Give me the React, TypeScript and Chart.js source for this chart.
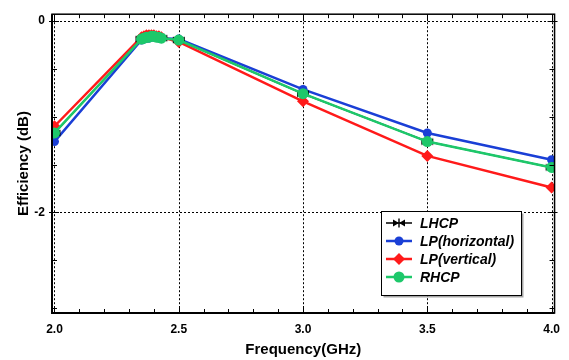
import React, { useEffect, useRef } from "react";
import { Chart, registerables } from "chart.js";

Chart.register(...registerables);

// ---- data ----
const frequencies = [2.0, 2.35, 2.36, 2.37, 2.38, 2.39, 2.4, 2.41, 2.42, 2.43, 2.5, 3.0, 3.5, 4.0];
const lhcp = [-1.17, -0.19, -0.18, -0.17, -0.17, -0.16, -0.16, -0.17, -0.17, -0.18, -0.2, -0.76, -1.26, -1.53];
const lpHorizontal = [-1.26, -0.2, -0.19, -0.18, -0.18, -0.17, -0.17, -0.17, -0.18, -0.18, -0.19, -0.715, -1.17, -1.45];
const lpVertical = [-1.1, -0.17, -0.16, -0.15, -0.15, -0.15, -0.15, -0.16, -0.16, -0.17, -0.22, -0.84, -1.41, -1.74];
const rhcp = [-1.17, -0.19, -0.18, -0.17, -0.17, -0.16, -0.16, -0.17, -0.17, -0.18, -0.2, -0.76, -1.26, -1.53];

const seriesNames = ["LHCP", "LP(horizontal)", "LP(vertical)", "RHCP"];
const xTickLabels = [2.0, 2.5, 3.0, 3.5, 4.0];
const yTickLabels = [0, -2];
const xMinorTicks = [2.1, 2.2, 2.3, 2.4, 2.6, 2.7, 2.8, 2.9, 3.1, 3.2, 3.3, 3.4, 3.6, 3.7, 3.8, 3.9];
const yMinorTicks = [-0.5, -1, -1.5, -2.5, -3];

function bowtie(): HTMLCanvasElement {
  const c = document.createElement("canvas");
  c.width = 14;
  c.height = 10;
  const g = c.getContext("2d")!;
  g.fillStyle = "#000";
  g.beginPath();
  g.moveTo(1, 1.5);
  g.lineTo(7, 5);
  g.lineTo(1, 8.5);
  g.closePath();
  g.fill();
  g.beginPath();
  g.moveTo(13, 1.5);
  g.lineTo(7, 5);
  g.lineTo(13, 8.5);
  g.closePath();
  g.fill();
  g.fillRect(6.3, 0.5, 1.4, 9);
  return c;
}

const toPts = (ys: number[]) => frequencies.map((x, i) => ({ x, y: ys[i] }));

const framePlugin = {
  id: "frame",
  beforeDatasetsDraw(chart: any) {
    const { ctx, chartArea: a, scales } = chart;
    const xs = scales.x;
    const ys = scales.y;
    ctx.save();
    ctx.strokeStyle = "#000";
    ctx.lineWidth = 1;
    ctx.setLineDash([2, 2]);
    xTickLabels.forEach((v) => {
      const px = Math.round(xs.getPixelForValue(v)) + 0.5;
      ctx.beginPath();
      ctx.moveTo(px, a.top);
      ctx.lineTo(px, a.bottom);
      ctx.stroke();
    });
    yTickLabels.forEach((v) => {
      const py = Math.round(ys.getPixelForValue(v)) + 0.5;
      ctx.beginPath();
      ctx.moveTo(a.left, py);
      ctx.lineTo(a.right, py);
      ctx.stroke();
    });
    ctx.restore();
  },
  afterDatasetsDraw(chart: any) {
    const { ctx, chartArea: a, scales } = chart;
    const xs = scales.x;
    const ys = scales.y;
    ctx.save();
    ctx.strokeStyle = "#000";
    ctx.setLineDash([]);
    ctx.lineWidth = 1;
    const tick = (x1: number, y1: number, x2: number, y2: number) => {
      ctx.beginPath();
      ctx.moveTo(x1, y1);
      ctx.lineTo(x2, y2);
      ctx.stroke();
    };
    xTickLabels.forEach((v) => {
      const px = Math.round(xs.getPixelForValue(v)) + 0.5;
      tick(px, a.bottom, px, a.bottom - 7);
      tick(px, a.top, px, a.top + 7);
    });
    xMinorTicks.forEach((v) => {
      const px = Math.round(xs.getPixelForValue(v)) + 0.5;
      tick(px, a.bottom, px, a.bottom - 4);
      tick(px, a.top, px, a.top + 4);
    });
    yTickLabels.forEach((v) => {
      const py = Math.round(ys.getPixelForValue(v)) + 0.5;
      tick(a.left - 3, py, a.left + 7, py);
      tick(a.right - 7, py, a.right + 3, py);
    });
    yMinorTicks.forEach((v) => {
      const py = Math.round(ys.getPixelForValue(v)) + 0.5;
      tick(a.left, py, a.left + 5, py);
      tick(a.right, py, a.right - 5, py);
    });
    // frame
    ctx.lineWidth = 1.5;
    ctx.strokeRect(a.left, a.top, a.right - a.left, a.bottom - a.top);
    ctx.lineWidth = 2;
    tick(a.left, a.top, a.left, a.bottom + 1);
    tick(a.left - 1, a.bottom, a.right, a.bottom);
    ctx.restore();
  },
  afterDraw(chart: any) {
    const { ctx } = chart;
    const bx = 381.5;
    const by = 211.5;
    const bw = 140;
    const bh = 84;
    ctx.save();
    ctx.fillStyle = "rgba(0,0,0,0.35)";
    ctx.fillRect(bx + 2, by + 2, bw, bh);
    ctx.fillStyle = "#fff";
    ctx.fillRect(bx, by, bw, bh);
    ctx.strokeStyle = "#000";
    ctx.lineWidth = 1;
    ctx.strokeRect(bx, by, bw, bh);
    const rows = [223, 241, 259, 277];
    const legendOrder = [0, 1, 2, 3];
    legendOrder.forEach((di, i) => {
      const ds = chart.data.datasets[di];
      const y = rows[i];
      ctx.strokeStyle = ds.borderColor;
      ctx.lineWidth = di === 0 ? 1.5 : 2.5;
      ctx.beginPath();
      ctx.moveTo(386, y);
      ctx.lineTo(412, y);
      ctx.stroke();
      const ps = ds.pointStyle;
      if (ps instanceof HTMLCanvasElement) {
        ctx.drawImage(ps, 399 - ps.width / 2, y - ps.height / 2);
      } else {
        ctx.fillStyle = ds.pointBackgroundColor;
        ctx.beginPath();
        const r = ds.pointRadius;
        if (ps === "rectRot") {
          ctx.moveTo(399, y - r);
          ctx.lineTo(399 + r, y);
          ctx.lineTo(399, y + r);
          ctx.lineTo(399 - r, y);
          ctx.closePath();
        } else {
          ctx.arc(399, y, r, 0, Math.PI * 2);
        }
        ctx.fill();
      }
      ctx.fillStyle = "#000";
      ctx.font = "italic bold 14px 'Liberation Sans', Arial, sans-serif";
      ctx.textBaseline = "middle";
      ctx.textAlign = "left";
      ctx.fillText(seriesNames[di], 420, y + 1);
    });
    ctx.restore();
  },
};

export default function App() {
  const ref = useRef<HTMLCanvasElement | null>(null);
  useEffect(() => {
    if (!ref.current) return;
    const tickFont = { family: "'Liberation Sans Narrow', 'Liberation Sans', Arial, sans-serif", size: 12, weight: "bold" as const };
    const titleFont = { family: "'Liberation Sans', Arial, sans-serif", size: 15, weight: "bold" as const };
    const chart = new Chart(ref.current, {
      type: "line",
      data: {
        datasets: [
          {
            label: seriesNames[0],
            data: toPts(lhcp),
            borderColor: "#000",
            backgroundColor: "#000",
            borderWidth: 1.5,
            pointStyle: bowtie() as any,
            pointRadius: 5,
            pointBackgroundColor: "#000",
            order: 2,
          },
          {
            label: seriesNames[1],
            data: toPts(lpHorizontal),
            borderColor: "#1a3fd6",
            backgroundColor: "#1a3fd6",
            borderWidth: 2.5,
            pointStyle: "circle",
            pointRadius: 4.5,
            pointBorderWidth: 0,
            pointBackgroundColor: "#1a3fd6",
            order: 4,
          },
          {
            label: seriesNames[2],
            data: toPts(lpVertical),
            borderColor: "#ff1a1a",
            backgroundColor: "#ff1a1a",
            borderWidth: 2.5,
            pointStyle: "rectRot",
            pointRadius: 6,
            pointBorderWidth: 0,
            pointBackgroundColor: "#ff1a1a",
            order: 3,
          },
          {
            label: seriesNames[3],
            data: toPts(rhcp),
            borderColor: "#1dc86a",
            backgroundColor: "#1dc86a",
            borderWidth: 2.5,
            pointStyle: "circle",
            pointRadius: 5.5,
            pointBorderWidth: 0,
            pointBackgroundColor: "#1dc86a",
            order: 1,
          },
        ],
      },
      options: {
        animation: false,
        responsive: false,
        maintainAspectRatio: false,
        layout: { padding: { top: 12, right: 14, left: 0, bottom: 0 } },
        plugins: { legend: { display: false }, tooltip: { enabled: false } },
        scales: {
          x: {
            type: "linear",
            min: 1.99,
            max: 4.012,
            afterBuildTicks: (s: any) => {
              s.ticks = xTickLabels.map((v) => ({ value: v }));
            },
            afterFit: (s: any) => {
              s.height = 47;
            },
            ticks: {
              callback: (v: any) => Number(v).toFixed(1),
              font: tickFont,
              color: "#000",
              padding: 9,
              maxRotation: 0,
            },
            grid: { display: false, drawTicks: false },
            border: { display: false },
            title: {
              display: true,
              text: "Frequency(GHz)",
              font: titleFont,
              color: "#000",
              padding: { top: 0, bottom: 1 },
            },
          },
          y: {
            type: "linear",
            min: -3.05,
            max: 0.07,
            afterBuildTicks: (s: any) => {
              s.ticks = yTickLabels.map((v) => ({ value: v }));
            },
            afterFit: (s: any) => {
              s.width = 52;
            },
            ticks: {
              callback: (v: any) => String(v),
              font: tickFont,
              color: "#000",
              padding: 7,
            },
            grid: { display: false, drawTicks: false },
            border: { display: false },
            title: {
              display: true,
              text: "Efficiency (dB)",
              font: titleFont,
              color: "#000",
              padding: { top: 15, bottom: 0 },
            },
          },
        },
      },
      plugins: [framePlugin],
    } as any);
    return () => chart.destroy();
  }, []);
  return (
    <div style={{ position: "fixed", left: 0, top: 0, width: 569, height: 360, background: "#fff" }}>
      <canvas ref={ref} width={569} height={360} style={{ width: 569, height: 360 }} />
    </div>
  );
}
